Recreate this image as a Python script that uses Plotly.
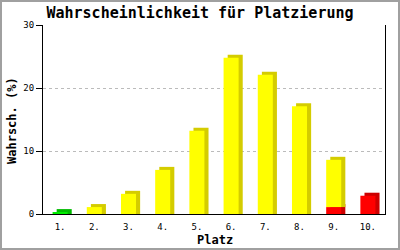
import plotly.graph_objects as go

places = ["1.", "2.", "3.", "4.", "5.", "6.", "7.", "8.", "9.", "10."]
red = [0, 0, 0, 0, 0, 0, 0, 0, 1.1, 2.9]
yellow = [0, 1.1, 3.2, 7.0, 13.2, 24.8, 22.1, 17.1, 7.5, 0]
green = [0.3, 0, 0, 0, 0, 0, 0, 0, 0, 0]

series = [
    ("red", red, "#ff0000", "#cc0000"),
    ("yellow", yellow, "#ffff00", "#d4cc00"),
    ("green", green, "#00ee00", "#00bb00"),
]

xs = list(range(1, len(places) + 1))
W = 0.44
DX = 0.12
DY = 0.48

fig = go.Figure()
cum = [0.0] * len(xs)
fronts = []
shadows = []
for name, vals, fc, sc in series:
    bx, by, bb = [], [], []
    for i, v in enumerate(vals):
        if v > 0:
            bx.append(xs[i]); by.append(v); bb.append(cum[i])
    shadows.append(go.Bar(x=bx, y=[v + DY for v in by], base=bb, width=W, offset=-W / 2 + DX,
                          marker=dict(color=sc, line=dict(width=0)), hoverinfo="skip", showlegend=False))
    fronts.append(go.Bar(x=bx, y=by, base=bb, width=W, offset=-W / 2,
                         marker=dict(color=fc, line=dict(width=0)), name=name, showlegend=False))
    for i, v in enumerate(vals):
        cum[i] += v

for t in shadows:
    fig.add_trace(t)
for t in fronts:
    fig.add_trace(t)

mono = "DejaVu Sans Mono"
L, R, T, B = 43, 15, 25, 36
PW, PH = 400 - L - R, 250 - T - B

fig.update_layout(
    width=400, height=250, barmode="overlay",
    margin=dict(l=L, r=R, t=T, b=B, autoexpand=False),
    paper_bgcolor="white", plot_bgcolor="white",
    title=dict(text="<b>Wahrscheinlichkeit für Platzierung</b>", x=0.5, xanchor="center",
               y=1 - 13 / 250, yanchor="middle", font=dict(family=mono, size=15, color="black")),
    xaxis=dict(range=[0.5, 10.5], tickvals=xs, ticktext=places, showgrid=False, automargin=False,
               showline=True, linecolor="black", linewidth=1, ticks="", zeroline=False,
               ticklabelstandoff=4,
               tickfont=dict(family=mono, size=9, color="black")),
    yaxis=dict(range=[0, 30], tickvals=[0, 10, 20, 30], showgrid=True, gridcolor="#bbbbbb",
               griddash="dot", gridwidth=1, showline=True, linecolor="black", linewidth=1,
               mirror=True, ticks="outside", ticklen=6, tickcolor="black", zeroline=False,
               automargin=False, tickfont=dict(family=mono, size=9, color="black")),
    annotations=[
        dict(text="<b>Platz</b>", xref="paper", yref="paper", x=(215 - L) / PW, y=-(240 - 214) / PH,
             xanchor="center", yanchor="middle", showarrow=False,
             font=dict(family=mono, size=12, color="black")),
        dict(text="<b>Wahrsch. (%)</b>", xref="paper", yref="paper", x=-(L - 12) / PW,
             y=(214 - 121) / PH, xanchor="center", yanchor="middle", textangle=-90, showarrow=False,
             font=dict(family=mono, size=12, color="black")),
    ],
    shapes=[dict(type="rect", xref="paper", yref="paper",
                 x0=(-L + 1) / PW, x1=(400 - L - 1) / PW,
                 y0=(-B + 1) / PH, y1=(250 - B - 1) / PH,
                 line=dict(color="#a0a0a0", width=2), layer="above")],
)

fig.write_html("out.html")
